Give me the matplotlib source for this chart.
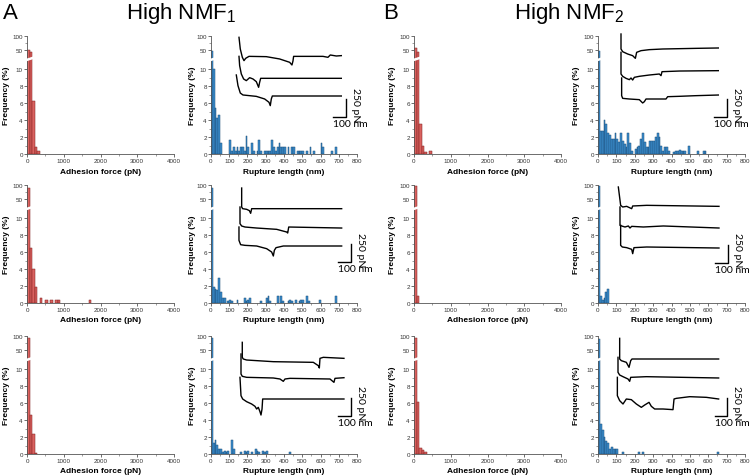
import numpy as np
import matplotlib
matplotlib.use("Agg")
import matplotlib.pyplot as plt
from matplotlib.lines import Line2D

plt.rcParams["font.family"] = ["Liberation Sans", "DejaVu Sans"]
plt.rcParams["mathtext.fontset"] = "custom"
plt.rcParams["mathtext.rm"] = "Liberation Sans"

W, H = 753, 477

# histogram data (frequency %, bins start at 0)
ADH_BIN = 70   # pN
RUP_BIN = 10   # nm

adh_a1 = [50, 44, 6.2, 0.8, 0.4]
adh_a2 = [88, 6.5, 4.0, 1.9, 0, 0.6, 0, 0.3, 0, 0.3, 0, 0.3, 0.3, 0, 0, 0, 0,
          0, 0, 0, 0, 0, 0, 0, 0.3]
adh_a3 = [93, 4.6, 2.4, 0.15]
adh_b1 = [56, 42, 3.5, 1.0, 0.2, 0, 0.3]
adh_b2 = [98, 0.8]
adh_b3 = [92, 6.1, 0.7, 0.5, 0.2]

rup_a1 = [48, 10, 5.4, 4.2, 4.6, 1.3, 0, 0, 0, 0,
          1.7, 0.4, 0.8, 0.4, 0.8, 0.4, 0.8, 0.8, 0.4, 2.1,
          0.8, 0, 1.3, 0.4, 0, 0.4, 1.7, 0.4, 0, 0.4,
          0.4, 0.4, 0.4, 1.7, 0.8, 0.4, 0.8, 1.3, 0.8, 0.8,
          0.8, 0, 0.8, 0, 0.8, 0.8, 0, 0.4, 0.4, 0.4,
          0.4, 0, 0.4, 0, 0.8, 0, 0.4, 0, 0, 0,
          1.3, 0.8, 0, 0, 0, 0, 0.4, 0, 0.8]
rup_a2 = [88, 1.9, 1.7, 1.5, 2.9, 1.3, 0.6, 0.6, 0, 0.2,
          0.4, 0.2, 0, 0, 0.4, 0, 0, 0, 0.6, 0.2,
          0.4, 0.6, 0, 0, 0, 0, 0, 0.2, 0, 0,
          0.6, 0.8, 0.2, 0, 0, 0, 0.8, 0, 0.8, 0.2,
          0, 0, 0.2, 0.4, 0.2, 0, 0.4, 0, 0.2, 0.4,
          0.4, 0, 0.8, 0.2, 0, 0, 0, 0, 0, 0.4,
          0, 0, 0, 0, 0, 0, 0, 0, 0.8]
rup_a3 = [92, 1.3, 1.6, 1.1, 0.6, 0.6, 0.2, 0.4, 0.2, 0.4,
          0, 1.6, 0.6, 0, 0, 0, 0.2, 0, 0.4, 0.2,
          0.4, 0, 0.2, 0, 0.6, 0.4, 0.2, 0, 0.4, 0.2,
          0.4, 0, 0, 0, 0, 0, 0, 0, 0, 0,
          0, 0, 0, 0.2]
rup_b1 = [48, 2.7, 2.7, 4.0, 3.5, 2.5, 2.2, 1.8, 1.8, 2.5,
          1.8, 1.4, 2.5, 1.5, 1.2, 0.8, 2.5, 1.3, 0.4, 0,
          0.6, 0.8, 1.0, 1.8, 2.5, 1.4, 0.8, 0.8, 1.5, 1.5,
          1.5, 2.0, 2.5, 2.0, 1.0, 0.4, 0.8, 0.8, 0.4, 0,
          0, 0.2, 0.3, 0.3, 0.5, 0.3, 0.3, 0.3, 0, 1.0,
          0, 0, 0, 0, 0.3, 0, 0, 0.3, 0.3]
rup_b2 = [95, 0.8, 0.3, 0.6, 1.3, 1.6]
rup_b3 = [88, 3.5, 2.8, 2.0, 1.5, 1.3, 0.6, 0.8, 0.6, 0.6,
          0.6, 0, 0, 0.2, 0, 0, 0, 0, 0, 0,
          0, 0, 0.2, 0, 0.2, 0, 0, 0, 0, 0,
          0, 0, 0, 0, 0, 0, 0, 0, 0, 0,
          0, 0, 0, 0, 0, 0, 0, 0, 0, 0,
          0, 0, 0, 0, 0, 0, 0, 0, 0, 0,
          0, 0, 0, 0, 0, 0.2]

# force-distance retraction curves (nm, pN), three per panel
curve_a1 = [
    ([0, 10, 26, 39, 52, 78, 213, 317, 395, 413, 421, 426, 655, 694, 712, 759, 798],
     [810, 649, 534, 488, 520, 547, 543, 511, 465, 428, 483, 547, 547, 534, 566, 552, 557]),
    ([0, 5, 18, 36, 57, 83, 109, 135, 153, 161, 169, 798],
     [547, 419, 304, 235, 212, 253, 235, 198, 120, 189, 244, 244]),
    ([-21, -8, 10, 31, 135, 200, 234, 244, 252, 260, 798],
     [290, 143, 41, 14, -5, -41, -87, -133, -41, 0, 0]),
]
curve_a2 = [
    ([13, 13, 21, 52, 73, 83, 91, 793], [800, 538, 515, 506, 488, 451, 515, 515]),
    ([0, 0, 13, 39, 130, 286, 364, 372, 380, 793],
     [538, 308, 276, 262, 248, 230, 193, 179, 262, 248]),
    ([-8, -8, 5, 39, 130, 208, 247, 260, 268, 281, 338, 793],
     [262, 78, 18, 9, 0, -37, -83, -138, -60, -23, 0, 0]),
]
curve_a3 = [
    ([10, 10, 18, 44, 252, 564, 603, 611, 616, 642, 803],
     [782, 575, 552, 538, 515, 506, 460, 428, 561, 575, 561]),
    ([0, 0, 10, 44, 252, 304, 330, 343, 382, 694, 725, 733, 803],
     [621, 345, 313, 299, 290, 276, 244, 276, 285, 276, 230, 285, 294]),
    ([-8, 0, 13, 44, 83, 109, 122, 135, 148, 156, 164, 169, 803],
     [299, 46, 0, -37, -69, -101, -138, -115, -175, -221, -138, 0, 0]),
]
curve_b1 = [
    ([0, 0, 13, 52, 91, 112, 122, 156, 221, 325, 585, 759],
     [897, 690, 653, 621, 598, 561, 644, 667, 681, 690, 699, 704]),
    ([0, 0, 13, 39, 65, 78, 91, 104, 143, 221, 299, 312, 320, 455, 759],
     [644, 345, 313, 285, 267, 290, 262, 299, 313, 331, 345, 322, 377, 386, 391]),
    ([5, 5, 13, 65, 143, 169, 182, 195, 351, 364, 455, 585, 759],
     [290, 46, 9, 0, -9, -55, -37, 0, 0, 32, 37, 46, 55]),
]
curve_b2 = [
    ([-13, 5, 21, 52, 91, 99, 208, 772], [828, 575, 552, 561, 529, 566, 575, 561]),
    ([0, 0, 13, 39, 65, 78, 91, 182, 338, 772],
     [552, 299, 290, 276, 290, 262, 285, 276, 290, 262]),
    ([5, 5, 18, 52, 91, 99, 109, 208, 772], [299, 23, 0, -9, -32, -92, -9, 0, -14]),
]
curve_b3 = [
    ([13, 13, 26, 65, 86, 99, 109, 785], [837, 552, 529, 506, 437, 529, 552, 552]),
    ([0, 0, 13, 39, 78, 91, 99, 221, 785], [575, 368, 331, 308, 276, 244, 299, 308, 290]),
    ([-5, -5, 13, 39, 65, 104, 143, 182, 208, 242, 260, 286, 351, 429, 437, 455, 559, 689, 785],
     [299, 46, -23, -69, 0, -9, -69, -115, -83, -46, -101, -138, -138, -147, 0, 9, 32, 23, 0]),
]
# scale bar corner (nm, pN) in each inset
bar_a1, bar_a2, bar_a3 = (837, -294), (863, -221), (855, -230)
bar_b1, bar_b2, bar_b3 = (827, -253), (840, -216), (853, -230)

# layout in pixels
COL_X = [(27, 174), (211, 357), (414, 561), (598, 745)]
ROW_Y = [(37, 155), (186, 304), (337, 455)]
YLAB_X = [7, 193, 393, 576]
INSET_ORIGIN = {(1, 0): (239, 97), (1, 1): (240, 247), (1, 2): (241, 400),
                (3, 0): (621, 100), (3, 1): (620, 248), (3, 2): (618, 400)}
NM_PX = 7.8
PN_PX = 13.8

RED, RED_E = "#d9625f", "#7d1c1c"
BLUE, BLUE_E = "#3c8fcf", "#1b4c77"
AX_C = "#555555"


def px_rect(l, t, r, b):
    return [l / W, 1 - b / H, (r - l) / W, (b - t) / H]


def style(ax):
    ax.spines[["top", "right"]].set_visible(False)
    for s in ax.spines.values():
        s.set_linewidth(0.6)
        s.set_color(AX_C)
    ax.tick_params(labelsize=4.5, length=2, width=0.5, pad=1, colors="#333333")
    ax.tick_params(which="minor", length=1.2, width=0.4, colors=AX_C)


def hist_panel(col, row, vals, binw, xmax, xstep, fc, ec, xlabel):
    l, r = COL_X[col]
    t, b = ROW_Y[row]
    brk = t + 23
    lo = fig.add_axes(px_rect(l, brk, r, b))
    hi = fig.add_axes(px_rect(l, t, r, brk))
    vals = np.asarray(vals, dtype=float)
    edges = np.arange(len(vals)) * binw
    keep = vals > 0
    for ax in (lo, hi):
        ax.bar(edges[keep], vals[keep], width=binw, align="edge", color=fc,
               edgecolor=ec, linewidth=0.35)
        ax.set_xlim(0, xmax)
        style(ax)
    lo.set_ylim(0, (b - brk) / 8.5)
    lo.set_yticks([0, 2, 4, 6, 8, 10])
    lo.set_yticks([1, 3, 5, 7, 9], minor=True)
    lo.set_xticks(np.arange(0, xmax + 1, xstep))
    lo.set_xticks(np.arange(xstep / 2, xmax, xstep), minor=True)
    hi.set_ylim(18, 100)
    hi.set_yticks([50, 100])
    hi.set_yticks([75], minor=True)
    hi.spines["bottom"].set_visible(False)
    hi.set_xticks([])
    hi.set_xticks([], minor=True)
    # axis break
    fig.add_artist(Line2D([(l - 3) / W, (l + 8) / W],
                          [1 - (brk + 1.8) / H, 1 - (brk - 1.8) / H],
                          transform=fig.transFigure, color="white", lw=1.8, zorder=10))
    fig.text((l + r) / 2 / W, 1 - (b + 17) / H, xlabel, ha="center", va="center",
             fontsize=6, weight="bold")
    fig.text(YLAB_X[col] / W, 1 - (t + b) / 2 / H, "Frequency (%)", rotation=90,
             ha="center", va="center", fontsize=6, weight="bold")


def force_inset(col, row, curves, bar):
    ox, oy = INSET_ORIGIN[(col, row)]
    ax = fig.add_axes(px_rect(ox - 30, oy - 75, ox + 150, oy + 50))
    ax.set_xlim(-30 * NM_PX, 150 * NM_PX)
    ax.set_ylim(-50 * PN_PX, 75 * PN_PX)
    ax.axis("off")
    for xs, ys in curves:
        ax.plot(xs, ys, color="black", lw=1.0, solid_joinstyle="round")
    cx, cy = bar
    ax.plot([cx - 100, cx, cx], [cy, cy, cy + 250], color="black", lw=1.0)
    ax.text(cx + 5 * NM_PX, cy + 125 + 4 * PN_PX, "250 pN", rotation=-90,
            ha="left", va="center", fontsize=7.5, family="Lato")
    ax.text(cx - 100, cy - 2 * PN_PX, "100 nm", ha="left", va="top",
            fontsize=7.5, family="Lato")


fig = plt.figure(figsize=(W / 100, H / 100), dpi=100)

adh = [adh_a1, adh_a2, adh_a3, adh_b1, adh_b2, adh_b3]
rup = [rup_a1, rup_a2, rup_a3, rup_b1, rup_b2, rup_b3]
curves = [curve_a1, curve_a2, curve_a3, curve_b1, curve_b2, curve_b3]
bars = [bar_a1, bar_a2, bar_a3, bar_b1, bar_b2, bar_b3]

for i in range(6):
    side, row = divmod(i, 3)
    hist_panel(2 * side, row, adh[i], ADH_BIN, 4000, 1000, RED, RED_E,
               "Adhesion force (pN)")
    hist_panel(2 * side + 1, row, rup[i], RUP_BIN, 800, 100, BLUE, BLUE_E,
               "Rupture length (nm)")
    force_inset(2 * side + 1, row, curves[i], bars[i])

fig.text(3 / W, 1 - 19 / H, "A", fontsize=16, ha="left", va="baseline")
fig.text(383 / W, 1 - 19 / H, "B", fontsize=16, ha="left", va="baseline")
fig.text(181 / W, 1 - 19 / H, r"High NMF$_\mathregular{1}$", fontsize=16,
         ha="center", va="baseline")
fig.text(569 / W, 1 - 19 / H, r"High NMF$_\mathregular{2}$", fontsize=16,
         ha="center", va="baseline")

fig.savefig("out.png", dpi=100)
